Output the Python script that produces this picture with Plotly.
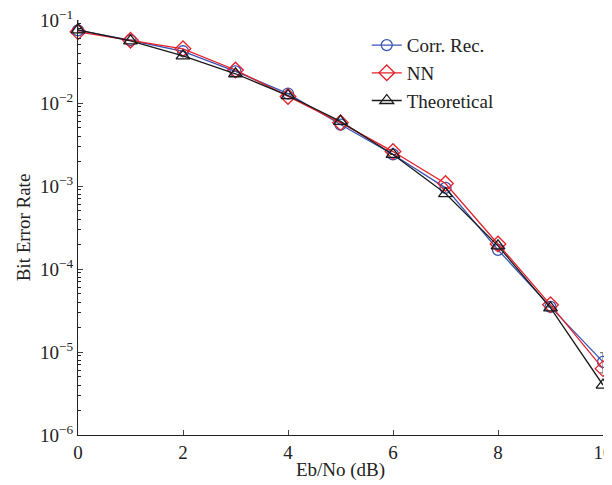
import plotly.graph_objects as go

ebno = [0, 1, 2, 3, 4, 5, 6, 7, 8, 9, 10]
corr_rec = [0.075, 0.057, 0.042, 0.024, 0.013, 0.0055, 0.0024, 0.00095, 0.00017, 3.5e-5, 7.6e-6]
corr_rec_err_plus = [0.035, 0, 0, 0, 0, 0, 0, 0, 0, 0, 2.2e-6]
corr_rec_err_minus = [0.0, 0, 0, 0, 0, 0, 0, 0, 0, 0, 2.0e-6]
nn = [0.072, 0.057, 0.045, 0.025, 0.012, 0.0058, 0.0026, 0.00107, 0.0002, 3.7e-5, 6.3e-6]
theoretical = [0.076, 0.056, 0.037, 0.0225, 0.0123, 0.006, 0.0024, 0.00081, 0.00019, 3.4e-5, 4.0e-6]

y_tickvals = [1e-6, 1e-5, 1e-4, 1e-3, 1e-2, 1e-1]
y_ticktext = ["10<sup>−6</sup>", "10<sup>−5</sup>", "10<sup>−4</sup>", "10<sup>−3</sup>", "10<sup>−2</sup>", "10<sup>−1</sup>"]
x_tickvals = [0, 2, 4, 6, 8, 10]

font_family = "Liberation Serif"

fig = go.Figure()
series = [
    ("Corr. Rec.", corr_rec, "#3a55b4", "circle-open", 11),
    ("NN", nn, "#e8202a", "diamond-open", 12),
    ("Theoretical", theoretical, "#1a1a1a", "triangle-up-open", 12),
]
for name, vals, color, sym, size in series:
    err = None
    if name == "Corr. Rec.":
        err = dict(type="data", array=corr_rec_err_plus, arrayminus=corr_rec_err_minus,
                   symmetric=False, color="#333", thickness=0.8, width=3)
    fig.add_trace(go.Scatter(
        x=ebno, y=vals, name=name, mode="lines+markers",
        line=dict(color=color, width=1.3),
        marker=dict(symbol=sym, size=size, color=color, line=dict(width=1.3, color=color)),
        error_y=err,
        cliponaxis=False,
    ))

# page is offset by the browser's 8px body margin, so the figure is 604x477
fig.update_layout(
    width=604, height=477,
    margin=dict(l=70, r=9, t=12, b=50),
    paper_bgcolor="white", plot_bgcolor="white",
    font=dict(family=font_family, size=19, color="#222"),
    showlegend=True,
    legend=dict(x=0.55, y=0.985, xanchor="left", yanchor="top",
                bgcolor="rgba(0,0,0,0)", font=dict(size=19), tracegroupgap=0,
                itemwidth=30),
)
fig.update_xaxes(
    range=[0, 10], tickvals=x_tickvals, ticks="inside", ticklen=5,
    showline=True, linecolor="#222", linewidth=1.2, showgrid=False, zeroline=False,
    title=dict(text="Eb/No (dB)", standoff=0, font=dict(size=19)),
    tickfont=dict(size=19), automargin=False, ticklabeloverflow="allow",
)
fig.update_yaxes(
    type="log", range=[-6, -1], tickvals=y_tickvals, ticktext=y_ticktext,
    ticks="inside", ticklen=5, showline=True, linecolor="#222", linewidth=1.2,
    showgrid=False, zeroline=False,
    minor=dict(ticks="inside", ticklen=3, tickcolor="#222", showgrid=False,
               tickvals=[m * 10 ** e for e in range(-6, -1) for m in range(2, 10)]),
    title=dict(text="Bit Error Rate", standoff=4, font=dict(size=19)),
    tickfont=dict(size=19), automargin=False, ticklabeloverflow="allow",
)

fig.write_html("out.html")
